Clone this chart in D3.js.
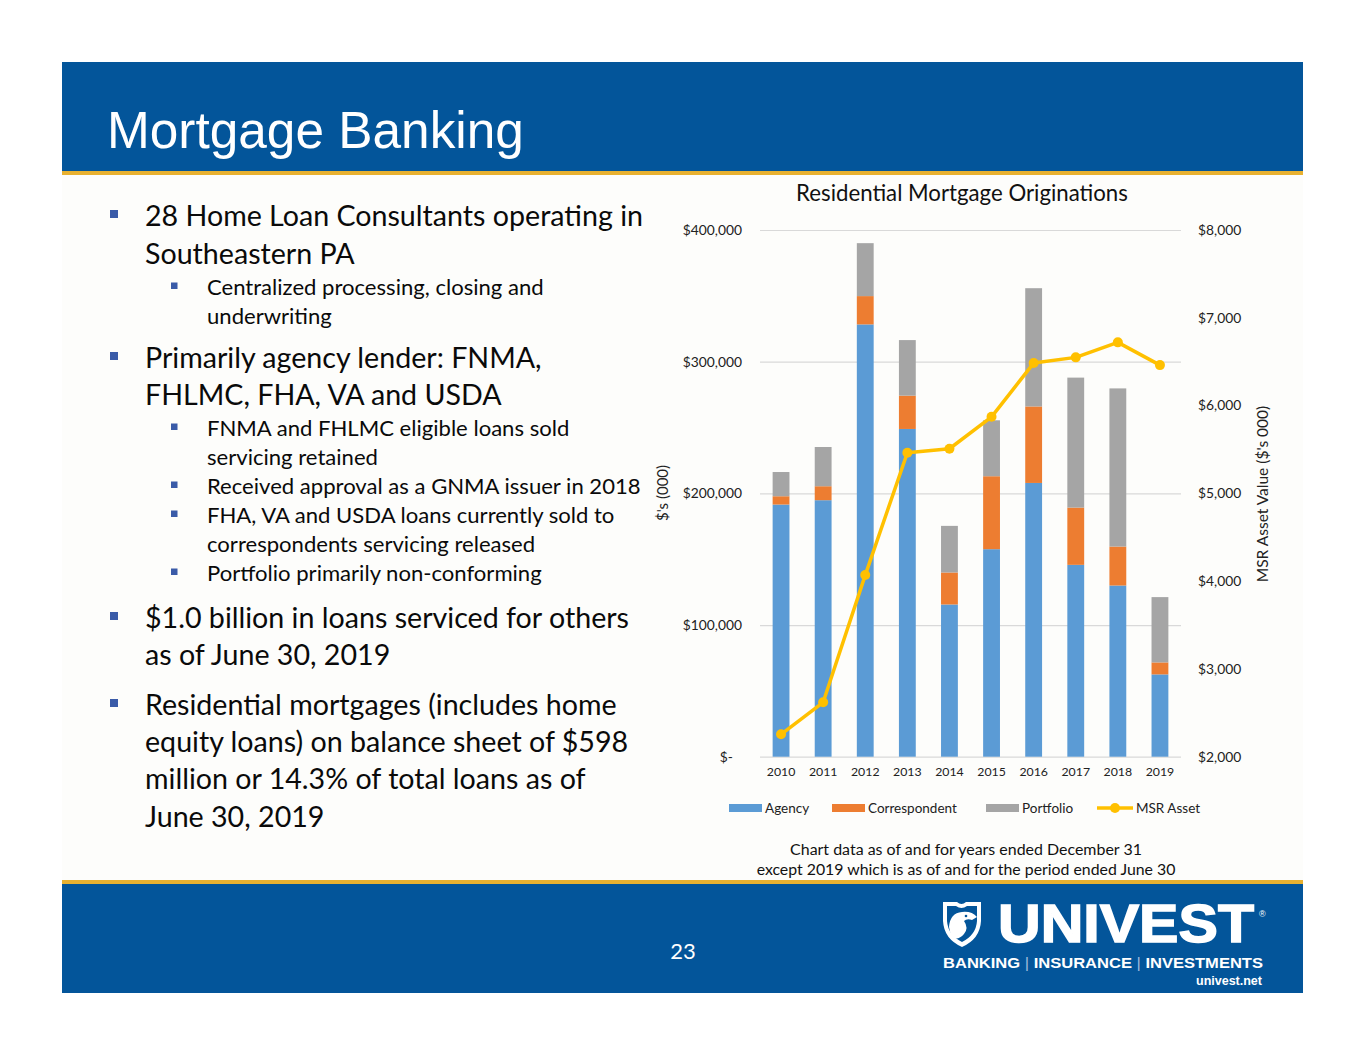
<!DOCTYPE html>
<html><head><meta charset="utf-8">
<script src="https://cdn.jsdelivr.net/npm/d3@7"></script>
<style>body{margin:0;background:#fff}svg{display:block}</style>
</head><body>
<svg id="s" width="1365" height="1055"></svg>
<script>
// ---------- DATA ----------
const years = ["2010","2011","2012","2013","2014","2015","2016","2017","2018","2019"];
const agency        = [191500,194800,328300,248900,115600,157600,207900,145700,130000,62500];
const correspondent = [6300,10600,21500,25300,24300,55400,58100,43500,29600,9100];
const portfolio     = [18400,29800,40200,42200,35400,42500,89800,98700,120100,49600];
const msrAsset      = [2255,2620,4069,5462,5508,5872,6484,6549,6720,6461];
const leftTicks  = [0,100000,200000,300000,400000];
const rightTicks = [2000,3000,4000,5000,6000,7000,8000];
const seriesNames = ["Agency","Correspondent","Portfolio","MSR Asset"];

const bulletItems = [
  {lvl:1, lines:["28 Home Loan Consultants operating in","Southeastern PA"]},
  {lvl:2, lines:["Centralized processing, closing and","underwriting"]},
  {lvl:1, lines:["Primarily agency lender: FNMA,","FHLMC, FHA, VA and USDA"]},
  {lvl:2, lines:["FNMA and FHLMC eligible loans sold","servicing retained"]},
  {lvl:2, lines:["Received approval as a GNMA issuer in 2018"]},
  {lvl:2, lines:["FHA, VA and USDA loans currently sold to","correspondents servicing released"]},
  {lvl:2, lines:["Portfolio primarily non-conforming"]},
  {lvl:1, lines:["$1.0 billion in loans serviced for others","as of June 30, 2019"]},
  {lvl:1, lines:["Residential mortgages (includes home","equity loans) on balance sheet of $598","million or 14.3% of total loans as of","June 30, 2019"]}
];

// ---------- STYLE ----------
const BLUE = "#03559A", GOLD = "#E8B130";
const COLORS = {Agency:"#5B9BD5", Correspondent:"#ED7D31", Portfolio:"#A5A5A5", "MSR Asset":"#FFC000"};
const BODY = "Lato, 'Open Sans', sans-serif";

const svg = d3.select("#s");

function fit(sel, target){
  const w = sel.node().getComputedTextLength();
  const fs = parseFloat(sel.attr("font-size"));
  const nf = fs*target/w;
  sel.attr("font-size", nf);
  return nf;
}

// ---------- SLIDE FRAME ----------
svg.append("rect").attr("x",62).attr("y",62).attr("width",1241).attr("height",931).attr("fill","#FDFDFB");
svg.append("rect").attr("x",62).attr("y",62).attr("width",1241).attr("height",109).attr("fill",BLUE);
svg.append("rect").attr("x",62).attr("y",171).attr("width",1241).attr("height",4).attr("fill",GOLD);
svg.append("rect").attr("x",62).attr("y",880).attr("width",1241).attr("height",4).attr("fill",GOLD);
svg.append("rect").attr("x",62).attr("y",884).attr("width",1241).attr("height",109).attr("fill",BLUE);

const title = svg.append("text").attr("x",107).attr("y",148)
  .attr("font-family","'Liberation Sans', Arial, sans-serif").attr("font-size",48)
  .attr("fill","#fff").text("Mortgage Banking");
fit(title,417);

// ---------- BULLETS ----------
const meas1 = svg.append("text").attr("font-family",BODY).attr("font-size",26).text(bulletItems[0].lines[0]);
const fs1 = fit(meas1,498); meas1.remove();
const meas2 = svg.append("text").attr("font-family",BODY).attr("font-size",20).text(bulletItems[4].lines[0]);
const fs2 = fit(meas2,434); meas2.remove();

const baseY = [[226,264],[295,324],[368,405],[436,465],[494],[523,552],[581],[628,665],[715,752,789,827]];
const bg = svg.append("g");
bulletItems.forEach((it,i)=>{
  const l1 = it.lvl===1;
  const tx = l1?145:207;
  const ys = baseY[i];
  const sq = l1?8:6.5;
  bg.append("rect").attr("x", l1?110:171).attr("y", ys[0]-(l1?16:12.5)).attr("width",sq).attr("height",sq).attr("fill","#3A5BA8");
  it.lines.forEach((t,j)=>{
    bg.append("text").attr("x",tx).attr("y",ys[j]).attr("font-family",BODY)
      .attr("font-size", l1?fs1:fs2).attr("fill","#0a0a0a").text(t);
  });
});

// ---------- CHART ----------
const x = d3.scaleBand().domain(years).range([760,1181]).paddingInner(0.6).paddingOuter(0.3);
const y = d3.scaleLinear().domain([0,400000]).range([756.7,230]);
const y2 = d3.scaleLinear().domain([2000,8000]).range([756.7,230]);

const table = years.map((yr,i)=>({year:yr, Agency:agency[i], Correspondent:correspondent[i], Portfolio:portfolio[i], msr:msrAsset[i]}));
const stack = d3.stack().keys(["Agency","Correspondent","Portfolio"])(table);

const ct = svg.append("text").attr("x",962).attr("y",201).attr("text-anchor","middle")
  .attr("font-family",BODY).attr("font-size",19).attr("fill","#111").text("Residential Mortgage Originations");
fit(ct,332);

// gridlines
svg.append("g").attr("transform","translate(760,0)")
  .call(d3.axisLeft(y).tickValues(leftTicks).tickSize(-421).tickFormat(""))
  .call(g=>g.select(".domain").remove())
  .call(g=>g.selectAll("line").attr("stroke","#D9D9D9").attr("stroke-width",1.2));

const fmtL = d => d===0 ? "$-" : "$" + d3.format(",")(d);
const fmtR = d => "$" + d3.format(",")(d);

const gl = svg.append("g").attr("transform","translate(760,0)")
  .call(d3.axisLeft(y).tickValues(leftTicks).tickSize(0).tickPadding(18).tickFormat(fmtL));
gl.select(".domain").remove();
gl.selectAll("text").attr("font-family",BODY).attr("font-size",13.8).attr("fill","#222");
gl.selectAll("text").filter(d=>d===0).attr("dx",-9);

const gr = svg.append("g").attr("transform","translate(1181,0)")
  .call(d3.axisRight(y2).tickValues(rightTicks).tickSize(0).tickPadding(17).tickFormat(fmtR));
gr.select(".domain").remove();
gr.selectAll("text").attr("font-family",BODY).attr("font-size",13.8).attr("fill","#222");

const gx = svg.append("g").attr("transform","translate(0,756.7)")
  .call(d3.axisBottom(x).tickSize(0).tickPadding(11));
gx.select(".domain").remove();
gx.selectAll("text").attr("font-family",BODY).attr("font-size",12.3).attr("fill","#222");

svg.append("text").attr("transform","translate(668,493) rotate(-90)").attr("text-anchor","middle")
  .attr("font-family",BODY).attr("font-size",15).attr("fill","#222").text("$'s (000)");
svg.append("text").attr("transform","translate(1268,494) rotate(-90)").attr("text-anchor","middle")
  .attr("font-family",BODY).attr("font-size",15.5).attr("fill","#222").text("MSR Asset Value ($'s 000)");

// bars
svg.append("g").selectAll("g").data(stack).join("g").attr("fill",d=>COLORS[d.key])
  .selectAll("rect").data(d=>d).join("rect")
  .attr("x",d=>x(d.data.year)).attr("width",x.bandwidth())
  .attr("y",d=>y(d[1])).attr("height",d=>y(d[0])-y(d[1]));

// MSR line
const line = d3.line().x(d=>x(d.year)+x.bandwidth()/2).y(d=>y2(d.msr));
svg.append("path").datum(table).attr("d",line).attr("fill","none")
  .attr("stroke",COLORS["MSR Asset"]).attr("stroke-width",3.5).attr("stroke-linejoin","round");
svg.append("g").selectAll("circle").data(table).join("circle")
  .attr("cx",d=>x(d.year)+x.bandwidth()/2).attr("cy",d=>y2(d.msr)).attr("r",5)
  .attr("fill",COLORS["MSR Asset"]);

// legend
const lg = svg.append("g").attr("font-family",BODY).attr("font-size",13.5).attr("fill","#222");
const legPos = [729,832,986,1097];
seriesNames.forEach((n,i)=>{
  const lx = legPos[i];
  if(n==="MSR Asset"){
    lg.append("line").attr("x1",lx).attr("x2",lx+36).attr("y1",808).attr("y2",808)
      .attr("stroke",COLORS[n]).attr("stroke-width",3.5);
    lg.append("circle").attr("cx",lx+18).attr("cy",808).attr("r",5).attr("fill",COLORS[n]);
    lg.append("text").attr("x",lx+39).attr("y",812.8).text(n);
  } else {
    lg.append("rect").attr("x",lx).attr("y",804).attr("width",33).attr("height",8).attr("fill",COLORS[n]);
    lg.append("text").attr("x",lx+36).attr("y",812.8).text(n);
  }
});

// footnote
const f1 = svg.append("text").attr("x",966).attr("y",855).attr("text-anchor","middle")
  .attr("font-family",BODY).attr("font-size",14).attr("fill","#111").text("Chart data as of and for years ended December 31");
fit(f1,352);
const f2 = svg.append("text").attr("x",966).attr("y",875).attr("text-anchor","middle")
  .attr("font-family",BODY).attr("font-size",14).attr("fill","#111").text("except 2019 which is as of and for the period ended June 30");
fit(f2,419);

// ---------- FOOTER ----------
svg.append("text").attr("x",683).attr("y",959).attr("text-anchor","middle")
  .attr("font-family",BODY).attr("font-size",22).attr("fill","#fff").text("23");

// logo
const lgG = svg.append("g");
lgG.append("path").attr("fill","#fff")
  .attr("d","M943,902 L957,902 Q961.5,906 966,902 L981,902 L981,921 Q980,939 962,947 Q944,939 943,921 Z");
lgG.append("path").attr("fill",BLUE)
  .attr("d","M947,906 L956,906 Q961.5,910 967,906 L977,906 L977,921 Q976,935 962,942 Q948,935 947,921 Z");
lgG.append("path").attr("fill","#fff")
  .attr("d","M949,927 Q950,913 962,912 Q972,911 977,917 L972,920 Q967,918 964,921 Q969,928 964,934 Q958,941 952,937 Q950,933 949,927 Z");
lgG.append("circle").attr("cx",966).attr("cy",916).attr("r",1.3).attr("fill",BLUE);

svg.append("text").attr("x",998).attr("y",942).attr("font-family","'Liberation Sans', Arial, sans-serif")
  .attr("font-weight","bold").attr("font-size",54).attr("fill","#fff").attr("stroke","#fff").attr("stroke-width",1.5)
  .attr("textLength",256).attr("lengthAdjust","spacingAndGlyphs").text("UNIVEST");
svg.append("text").attr("x",1259).attr("y",917).attr("font-family","'Liberation Sans', Arial, sans-serif")
  .attr("font-size",9).attr("fill","#fff").text("®");
const tag = svg.append("text").attr("x",943).attr("y",968).attr("font-family","'Liberation Sans', Arial, sans-serif")
  .attr("font-weight","bold").attr("font-size",15).attr("fill","#fff")
  .attr("textLength",320).attr("lengthAdjust","spacingAndGlyphs");
tag.append("tspan").text("BANKING ");
tag.append("tspan").attr("fill","#9DB9DA").attr("font-weight","normal").text("|");
tag.append("tspan").text(" INSURANCE ");
tag.append("tspan").attr("fill","#9DB9DA").attr("font-weight","normal").text("|");
tag.append("tspan").text(" INVESTMENTS");
svg.append("text").attr("x",1262).attr("y",985).attr("text-anchor","end").attr("font-family","'Liberation Sans', Arial, sans-serif")
  .attr("font-weight","bold").attr("font-size",12.5).attr("fill","#fff").text("univest.net");
</script>
</body></html>
